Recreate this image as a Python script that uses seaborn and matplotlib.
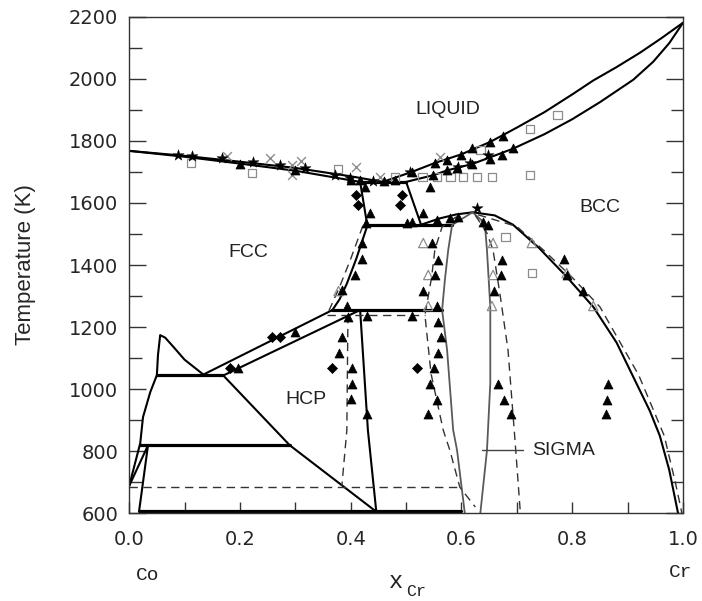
import numpy as np
import seaborn as sns
import matplotlib.pyplot as plt

# ---- calculated phase boundaries (x_Cr, T in K) ----
co_liq_x = [0.0, 0.1, 0.2, 0.3, 0.4, 0.458]
co_liq_t = [1768, 1752, 1733, 1713, 1686, 1668]
co_sol_x = [0.0, 0.1, 0.2, 0.3, 0.417]
co_sol_t = [1768, 1749, 1727, 1704, 1668]
bcc_liq_x = [0.458, 0.51, 0.552, 0.60, 0.652, 0.70, 0.75, 0.80, 0.838, 0.88, 0.922, 0.96, 1.0]
bcc_liq_t = [1668, 1700, 1729, 1757, 1797, 1843, 1893, 1950, 1995, 2038, 2084, 2130, 2181]
bcc_sol_x = [0.50, 0.55, 0.574, 0.62, 0.693, 0.75, 0.80, 0.85, 0.91, 0.946, 0.975, 1.0]
bcc_sol_t = [1668, 1690, 1705, 1726, 1775, 1822, 1870, 1925, 1997, 2055, 2115, 2181]
eut_x = [0.417, 0.50]
eut_t = [1668, 1668]

fcc_top_x = [0.417, 0.43]
fcc_top_t = [1668, 1527]
bcc_left_x = [0.50, 0.527]
bcc_left_t = [1668, 1530]
eutd_x = [0.43, 0.583]
eutd_t = [1529, 1529]
bcc_dome_x = [0.527, 0.56, 0.59, 0.62]
bcc_dome_t = [1530, 1550, 1563, 1570]
bcc_solv_x = [0.62, 0.66, 0.693, 0.74, 0.79, 0.838, 0.88, 0.91, 0.94, 0.958, 0.975, 0.991]
bcc_solv_t = [1570, 1560, 1530, 1455, 1362, 1265, 1150, 1040, 930, 850, 740, 600]
bcc_dash_x = [0.63, 0.70, 0.75, 0.80, 0.85, 0.92, 0.966, 0.986, 0.998]
bcc_dash_t = [1562, 1524, 1445, 1360, 1265, 1045, 850, 700, 600]

sig_l_x = [0.62, 0.583, 0.576, 0.570, 0.565, 0.574, 0.585, 0.592, 0.606]
sig_l_t = [1570, 1529, 1448, 1352, 1255, 1126, 868, 803, 600]
sig_r_x = [0.62, 0.642, 0.646, 0.652, 0.652, 0.646, 0.634]
sig_r_t = [1570, 1535, 1448, 1265, 1019, 803, 600]
sig_dl_x = [0.59, 0.565, 0.552, 0.546, 0.534, 0.545, 0.567, 0.579, 0.597, 0.625]
sig_dl_t = [1555, 1523, 1450, 1360, 1239, 1050, 868, 803, 684, 620]
sig_dr_x = [0.625, 0.646, 0.657, 0.670, 0.684, 0.697, 0.706]
sig_dr_t = [1560, 1503, 1448, 1300, 1126, 826, 608]

fcc_low_x = [0.43, 0.41, 0.393, 0.38, 0.367]
fcc_low_t = [1527, 1420, 1340, 1290, 1255]
fcc_dash_x = [0.422, 0.40, 0.38, 0.365, 0.357]
fcc_dash_t = [1527, 1420, 1330, 1270, 1239]
per_x = [0.367, 0.565]
per_t = [1255, 1255]
per_dash_x = [0.357, 0.534]
per_dash_t = [1239, 1239]
fh_up_x = [0.367, 0.134]
fh_up_t = [1255, 1047]
fh_lo_x = [0.417, 0.17]
fh_lo_t = [1255, 1044]
h1045_x = [0.05, 0.17]
h1045_t = [1045, 1045]
bump_x = [0.05, 0.052, 0.056, 0.065, 0.08, 0.10, 0.134]
bump_t = [1045, 1110, 1174, 1166, 1136, 1095, 1047]
hcp_r_x = [0.417, 0.431, 0.446]
hcp_r_t = [1255, 868, 608]
diag_x = [0.17, 0.29, 0.444]
diag_t = [1044, 819, 608]
left_x = [0.05, 0.038, 0.025, 0.02, 0.0]
left_t = [1045, 990, 910, 826, 688]
corner_x = [0.0, 0.034, 0.018]
corner_t = [688, 819, 608]
h820_x = [0.02, 0.29]
h820_t = [819, 819]
h608_x = [0.018, 0.60]
h608_t = [608, 608]
hcp_dash_x = [0.395, 0.393, 0.384]
hcp_dash_t = [1239, 868, 688]
h688_x = [0.0, 0.597]
h688_t = [686, 686]

# ---- experimental points ----
star_x = [0.088, 0.114, 0.168, 0.224, 0.273, 0.318, 0.372, 0.399, 0.44, 0.507,
          0.594, 0.615, 0.648, 0.628]
star_t = [1755, 1752, 1745, 1732, 1723, 1713, 1690, 1681, 1672, 1700,
          1716, 1729, 1755, 1584]
tri_x = [0.20, 0.30, 0.40, 0.417, 0.426, 0.435, 0.428, 0.46, 0.48,
         0.675, 0.652, 0.619, 0.60, 0.574, 0.552, 0.511,
         0.693, 0.673, 0.652, 0.619, 0.592, 0.574, 0.549,
         0.543, 0.53, 0.502, 0.511, 0.556, 0.58, 0.594, 0.639, 0.648,
         0.547, 0.558, 0.552, 0.531, 0.556, 0.511, 0.558, 0.563, 0.558, 0.551, 0.543, 0.556, 0.54,
         0.673, 0.671, 0.659, 0.666, 0.677, 0.69,
         0.785, 0.79, 0.82, 0.865, 0.862, 0.86,
         0.42, 0.42, 0.408, 0.384, 0.393, 0.395, 0.43, 0.384, 0.379, 0.403, 0.403, 0.40, 0.43,
         0.197, 0.30]
tri_t = [1726, 1706, 1674, 1674, 1652, 1568, 1535, 1672, 1675,
         1816, 1797, 1777, 1755, 1739, 1729, 1700,
         1777, 1755, 1742, 1726, 1713, 1706, 1690,
         1652, 1568, 1535, 1539, 1545, 1552, 1555, 1539, 1529,
         1471, 1416, 1368, 1316, 1268, 1235, 1216, 1168, 1116, 1068, 1016, 965, 919,
         1416, 1368, 1316, 1016, 965, 919,
         1419, 1368, 1316, 1016, 965, 919,
         1471, 1419, 1368, 1319, 1268, 1232, 1235, 1168, 1116, 1068, 1016, 968, 919,
         1068, 1184]
otri_x = [0.531, 0.657, 0.727, 0.54, 0.657, 0.79, 0.54, 0.655, 0.838, 0.378]
otri_t = [1471, 1471, 1471, 1368, 1368, 1374, 1268, 1268, 1268, 1316]
dia_x = [0.41, 0.413, 0.493, 0.489, 0.258, 0.272, 0.182, 0.366, 0.52]
dia_t = [1626, 1594, 1626, 1594, 1168, 1168, 1068, 1068, 1068]
sq_x = [0.112, 0.222, 0.377, 0.48, 0.53, 0.556, 0.58, 0.603, 0.628, 0.655,
        0.724, 0.724, 0.773, 0.634, 0.679, 0.727]
sq_t = [1729, 1697, 1709, 1684, 1684, 1684, 1684, 1684, 1684, 1684,
        1690, 1839, 1884, 1771, 1490, 1374]
cross_x = [0.177, 0.254, 0.294, 0.294, 0.31, 0.41, 0.453, 0.561]
cross_t = [1752, 1745, 1723, 1690, 1735, 1716, 1684, 1748]

sns.set_style("ticks")
plt.rcParams['font.family'] = ['DejaVu Sans']

fig = plt.figure(figsize=(7.02, 6.01), dpi=100)
ax = fig.add_axes([0.184, 0.146, 0.789, 0.826])


def curve(x, t, **kw):
    kw.setdefault('color', 'black')
    kw.setdefault('linewidth', 1.5)
    sns.lineplot(x=x, y=t, sort=False, estimator=None, ax=ax, **kw)


# solid boundaries
for xs, ts in [(co_liq_x, co_liq_t), (co_sol_x, co_sol_t), (bcc_liq_x, bcc_liq_t),
               (bcc_sol_x, bcc_sol_t), (fcc_top_x, fcc_top_t), (bcc_left_x, bcc_left_t),
               (bcc_dome_x, bcc_dome_t), (bcc_solv_x, bcc_solv_t), (fcc_low_x, fcc_low_t),
               (fh_up_x, fh_up_t), (fh_lo_x, fh_lo_t), (bump_x, bump_t),
               (hcp_r_x, hcp_r_t), (diag_x, diag_t), (left_x, left_t), (corner_x, corner_t)]:
    curve(xs, ts)
# invariant lines
for xs, ts in [(eut_x, eut_t), (eutd_x, eutd_t), (per_x, per_t), (h1045_x, h1045_t),
               (h820_x, h820_t), (h608_x, h608_t)]:
    curve(xs, ts, linewidth=2.3)
# sigma boundaries (grey)
curve(sig_l_x, sig_l_t, color='#5a5a5a', linewidth=1.3)
curve(sig_r_x, sig_r_t, color='#5a5a5a', linewidth=1.3)
# dashed alternative assessment
for xs, ts in [(bcc_dash_x, bcc_dash_t), (sig_dl_x, sig_dl_t), (sig_dr_x, sig_dr_t),
               (fcc_dash_x, fcc_dash_t), (per_dash_x, per_dash_t), (hcp_dash_x, hcp_dash_t),
               (h688_x, h688_t)]:
    curve(xs, ts, color='#333333', linewidth=1.0, linestyle=(0, (6, 4)))

# SIGMA leader line
curve([0.637, 0.711], [803, 803], color='#444444', linewidth=1.0)

# experimental data
sns.scatterplot(x=sq_x, y=sq_t, marker='s', s=38, facecolor='none',
                edgecolor='#8c8c8c', linewidth=0.9, ax=ax, zorder=3)
sns.scatterplot(x=cross_x, y=cross_t, marker='x', s=40, color='#8c8c8c',
                linewidth=1.0, ax=ax, zorder=3)
sns.scatterplot(x=otri_x, y=otri_t, marker='^', s=45, facecolor='none',
                edgecolor='#8c8c8c', linewidth=0.9, ax=ax, zorder=3)
sns.scatterplot(x=tri_x, y=tri_t, marker='^', s=42, color='black',
                edgecolor='black', linewidth=0.5, ax=ax, zorder=4)
sns.scatterplot(x=dia_x, y=dia_t, marker='D', s=26, color='black',
                edgecolor='black', linewidth=0.5, ax=ax, zorder=4)
sns.scatterplot(x=star_x, y=star_t, marker='*', s=70, color='black',
                edgecolor='black', linewidth=0.3, ax=ax, zorder=4)

# phase labels
lab = dict(fontsize=14, family='Liberation Sans', color='#222222')
ax.text(0.575, 1900, 'LIQUID', ha='center', va='center', **lab)
ax.text(0.85, 1584, 'BCC', ha='center', va='center', **lab)
ax.text(0.215, 1442, 'FCC', ha='center', va='center', **lab)
ax.text(0.32, 968, 'HCP', ha='center', va='center', **lab)
ax.text(0.727, 803, 'SIGMA', ha='left', va='center', **lab)

ax.set_xlim(0, 1)
ax.set_ylim(600, 2200)
ax.set_xticks([0, 0.2, 0.4, 0.6, 0.8, 1.0])
ax.set_xticklabels(['0.0', '0.2', '0.4', '0.6', '0.8', '1.0'])
ax.set_xticks(np.arange(0.1, 1.0, 0.2), minor=True)
ax.set_yticks(np.arange(600, 2201, 200))
ax.set_yticks(np.arange(700, 2200, 200), minor=True)
ax.tick_params(which='both', direction='in', right=True, top=False, labelsize=14,
               color='#333333', width=1.0)
ax.tick_params(axis='y', which='major', length=12, pad=8)
ax.tick_params(axis='y', which='minor', length=9)
ax.tick_params(axis='x', which='both', length=8, pad=12)
for sp in ax.spines.values():
    sp.set_visible(True)
    sp.set_color('#333333')
    sp.set_linewidth(1.0)
ax.set_xlabel('')
ax.set_ylabel('')

fig.text(0.036, 0.56, 'Temperature (K)', rotation=90, ha='center', va='center',
         fontsize=16, family='Liberation Sans')
mono = dict(family='Liberation Mono', color='#222222')
fig.text(0.211, 0.042, 'Co', ha='center', va='center', fontsize=14, **mono)
fig.text(0.970, 0.048, 'Cr', ha='center', va='center', fontsize=14, **mono)
fig.text(0.564, 0.032, 'x', ha='center', va='center', fontsize=17, **mono)
fig.text(0.593, 0.016, 'Cr', ha='center', va='center', fontsize=12, **mono)

fig.savefig('out.png', dpi=100)
